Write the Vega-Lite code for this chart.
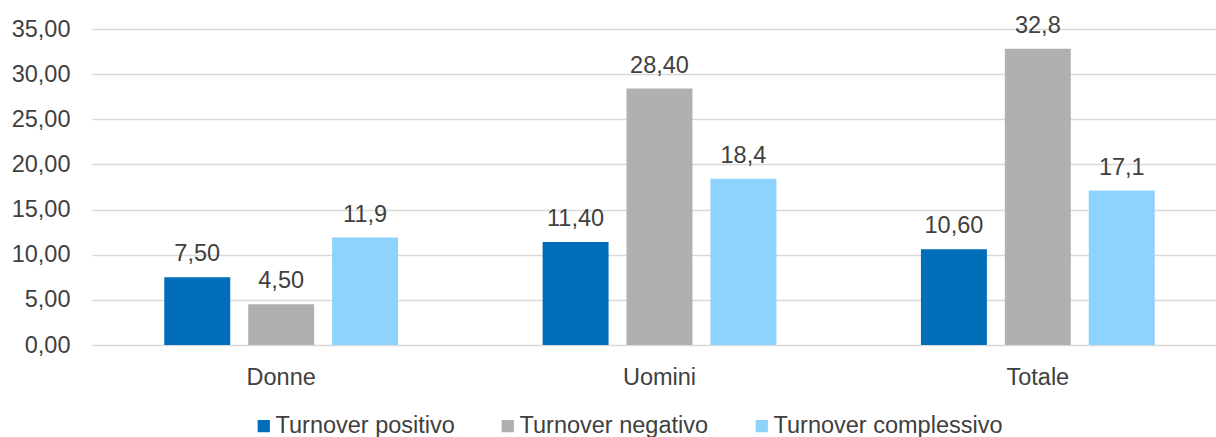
{
  "$schema": "https://vega.github.io/schema/vega-lite/v6.json",
  "autosize": {"type": "none"},
  "padding": {"left": 92, "top": 29, "right": 0, "bottom": 92},
  "width": 1135,
  "height": 316,
  "background": "white",
  "config": {"view": {"stroke": null}, "font": "Liberation Sans"},
  "data": {"values": [
    {"cat": "Donne", "serie": "Turnover positivo", "v": 7.5, "lab": "7,50"},
    {"cat": "Donne", "serie": "Turnover negativo", "v": 4.5, "lab": "4,50"},
    {"cat": "Donne", "serie": "Turnover complessivo", "v": 11.9, "lab": "11,9"},
    {"cat": "Uomini", "serie": "Turnover positivo", "v": 11.4, "lab": "11,40"},
    {"cat": "Uomini", "serie": "Turnover negativo", "v": 28.4, "lab": "28,40"},
    {"cat": "Uomini", "serie": "Turnover complessivo", "v": 18.4, "lab": "18,4"},
    {"cat": "Totale", "serie": "Turnover positivo", "v": 10.6, "lab": "10,60"},
    {"cat": "Totale", "serie": "Turnover negativo", "v": 32.8, "lab": "32,8"},
    {"cat": "Totale", "serie": "Turnover complessivo", "v": 17.1, "lab": "17,1"}
  ]},
  "encoding": {
    "x": {"field": "cat", "type": "nominal", "sort": ["Donne", "Uomini", "Totale"],
      "scale": {"paddingInner": 0.382, "paddingOuter": 0.191},
      "axis": {"title": null, "labelAngle": 0, "labelFontSize": 23.5, "labelColor": "#404040", "labelPadding": 20, "ticks": false, "domain": false}},
    "xOffset": {"field": "serie", "type": "nominal", "sort": ["Turnover positivo", "Turnover negativo", "Turnover complessivo"],
      "scale": {"paddingInner": 0.214, "paddingOuter": 0}},
    "y": {"field": "v", "type": "quantitative", "scale": {"domain": [0, 35], "nice": false},
      "axis": {"title": null, "values": [0, 5, 10, 15, 20, 25, 30, 35], "format": ".2f", "labelExpr": "replace(datum.label, '.', ',')",
        "labelFontSize": 23.5, "labelColor": "#404040", "labelPadding": 22, "ticks": false, "domain": false,
        "gridColor": "#D9D9D9", "gridWidth": 1.5}}
  },
  "layer": [
    {"mark": {"type": "bar"},
      "encoding": {"color": {"field": "serie", "type": "nominal",
        "sort": ["Turnover positivo", "Turnover negativo", "Turnover complessivo"],
        "scale": {"domain": ["Turnover positivo", "Turnover negativo", "Turnover complessivo"], "range": ["#006EB8", "#B0B0B0", "#8DD3FD"]},
        "legend": {"title": null, "orient": "none", "direction": "horizontal", "legendX": 160, "legendY": 385,
          "symbolType": "square", "symbolSize": 150, "symbolStrokeWidth": 0, "labelFontSize": 23.5, "labelColor": "#404040",
          "columnPadding": 41, "labelOffset": 0, "labelLimit": 400, "symbolOpacity": 1}}}},
    {"mark": {"type": "text", "baseline": "alphabetic", "dy": -16, "fontSize": 23.5, "color": "#404040"},
      "encoding": {"text": {"field": "lab"}}}
  ]
}
